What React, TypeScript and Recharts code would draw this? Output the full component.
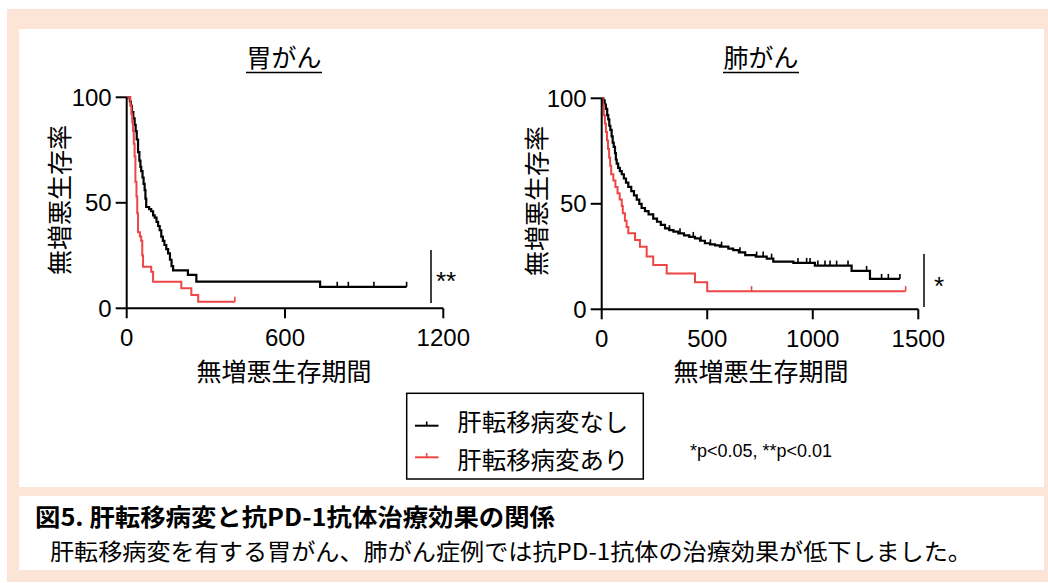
import React from 'react';
import { LineChart, Line, XAxis, YAxis } from 'recharts';

// ---- Data ----
// 胃がん, 肝転移病変なし
const gastricNoLiverT = [0, 12, 16, 20, 25, 30, 34, 38, 43, 48, 52, 55, 60, 64, 68, 71, 74, 85, 93, 100, 106, 113, 119, 125, 131, 137, 143, 150, 157, 164, 170, 176, 232, 264, 733];
const gastricNoLiverS = [100, 98, 96, 93, 90, 87, 84, 80, 74, 70, 67, 65, 62, 59, 56, 52, 48, 47, 46, 44, 43, 41, 39, 37, 34, 32, 30, 28, 26, 23, 20, 18, 15.8, 12.6, 10.2];
const gastricNoLiverCensor = [798, 840, 937, 1061];

// 胃がん, 肝転移病変あり
const gastricLiverT = [0, 14, 18, 21, 24, 27, 30, 33, 37, 40, 43, 50, 55, 59, 62, 93, 100, 207, 245, 271];
const gastricLiverS = [100, 96, 92, 88, 84, 78, 72, 60, 53, 45, 36, 34, 32, 25, 19.7, 17.3, 12.6, 9.5, 6.3, 3.1];
const gastricLiverCensor = [410];

// 肺がん, 肝転移病変なし
const lungNoLiverT = [0, 8, 14, 20, 26, 31, 36, 41, 47, 52, 57, 63, 67, 71, 78, 86, 95, 105, 115, 126, 140, 153, 166, 178, 189, 205, 222, 244, 262, 280, 300, 320, 340, 363, 390, 415, 442, 466, 489, 513, 537, 560, 600, 623, 650, 680, 730, 782, 813, 908, 1010, 1184, 1271];
const lungNoLiverS = [100, 99, 97, 95, 92, 90, 87, 85, 82, 79, 77, 74, 71, 69, 67, 65.5, 64, 62, 60, 58, 56, 54, 52, 50, 48, 46.5, 45, 43, 41.5, 40, 38.4, 37.5, 36.8, 36, 35, 34.3, 33.6, 32.5, 31.3, 30.8, 30.3, 29.7, 28.8, 28, 27, 25.7, 25, 24, 22.6, 22, 20.7, 18.2, 14.4];
const lungNoLiverCensor = [321, 371, 434, 470, 515, 568, 655, 734, 765, 805, 930, 971, 987, 1024, 1058, 1082, 1113, 1167, 1255, 1326, 1358, 1413];

// 肺がん, 肝転移病変あり
const lungLiverT = [0, 5, 10, 15, 20, 25, 30, 35, 40, 45, 55, 65, 75, 85, 95, 100, 110, 118, 126, 158, 181, 213, 244, 308, 442, 500];
const lungLiverS = [100, 97, 92, 88, 84, 80, 76, 72, 68, 64, 61, 58, 55, 52, 49, 45.5, 42, 39, 36, 32.8, 29.7, 25, 21, 17, 12.8, 8.6];
const lungLiverCensor = [710, 1440];

const gastricXTicks = [0, 600, 1200];
const lungXTicks = [0, 500, 1000, 1500];
const yTicks = [0, 50, 100];

const seriesNames = ['肝転移病変なし', '肝転移病変あり'];
const chartTitles = ['胃がん', '肺がん'];
const xLabel = '無増悪生存期間';
const yLabel = '無増悪生存率';
const significance = ['**', '*'];
const footnote = '*p<0.05, **p<0.01';
const captionTitle = '図5. 肝転移病変と抗PD-1抗体治療効果の関係';
const captionBody = '肝転移病変を有する胃がん、肺がん症例では抗PD-1抗体の治療効果が低下しました。';

// ---- Styles ----
const BLACK = '#000000';
const RED = '#EE4545';
const PEACH = '#FCE4D6';
const NUM_FONT = "'Liberation Sans', Arial, sans-serif";
const JP_FONT = "'Noto Sans CJK JP', 'Noto Sans', sans-serif";

type Pt = { t: number; s: number; c: boolean };

function buildCurve(ts: number[], ss: number[], censor: number[]): Pt[] {
  const pts: Pt[] = ts.map((t, i) => ({ t, s: ss[i], c: false }));
  censor.forEach((ct) => {
    let s = ss[0];
    for (let i = 0; i < ts.length; i++) if (ts[i] <= ct) s = ss[i];
    pts.push({ t: ct, s, c: true });
  });
  pts.sort((a, b) => a.t - b.t);
  return pts;
}

const censorDot = (color: string) => (props: any) => {
  const { cx, cy, payload, index } = props;
  if (!payload || !payload.c || cx == null || cy == null) return <g key={`d${index}`} />;
  return <line key={`d${index}`} x1={cx} x2={cx} y1={cy} y2={cy - 5} stroke={color} strokeWidth={1.6} />;
};

const axisStroke = { stroke: BLACK, strokeWidth: 2 };
const tickStyle = { fill: BLACK, fontSize: 24, fontFamily: NUM_FONT };

function KMChart(props: {
  left: number;
  top: number;
  yWidth: number;
  xMax: number;
  xTicks: number[];
  noLiver: Pt[];
  liver: Pt[];
}) {
  const W = 480;
  const H = 400;
  const plotW = 316.6;
  const plotH = 211;
  const xH = 60;
  return (
    <div style={{ position: 'absolute', left: props.left, top: 0, width: W, height: H }}>
      <LineChart
        width={W}
        height={H}
        margin={{ top: props.top, left: 0, right: W - props.yWidth - plotW, bottom: H - props.top - plotH - xH }}
      >
        <XAxis
          type="number"
          dataKey="t"
          domain={[0, props.xMax]}
          ticks={props.xTicks}
          interval={0}
          height={xH}
          tickSize={10}
          tickMargin={11}
          axisLine={axisStroke}
          tickLine={axisStroke}
          tick={tickStyle}
        />
        <YAxis
          type="number"
          domain={[0, 100]}
          ticks={yTicks}
          interval={0}
          width={props.yWidth}
          tickSize={11}
          tickMargin={4}
          axisLine={axisStroke}
          tickLine={axisStroke}
          tick={tickStyle}
        />
        <Line
          data={props.noLiver}
          dataKey="s"
          name={seriesNames[0]}
          type="stepAfter"
          stroke={BLACK}
          strokeWidth={2.2}
          dot={censorDot(BLACK)}
          activeDot={false}
          isAnimationActive={false}
        />
        <Line
          data={props.liver}
          dataKey="s"
          name={seriesNames[1]}
          type="stepAfter"
          stroke={RED}
          strokeWidth={2}
          dot={censorDot(RED)}
          activeDot={false}
          isAnimationActive={false}
        />
      </LineChart>
    </div>
  );
}

export default function App() {
  const gNo = buildCurve(gastricNoLiverT, gastricNoLiverS, gastricNoLiverCensor);
  const gYes = buildCurve(gastricLiverT, gastricLiverS, gastricLiverCensor);
  const lNo = buildCurve(lungNoLiverT, lungNoLiverS, lungNoLiverCensor);
  const lYes = buildCurve(lungLiverT, lungLiverS, lungLiverCensor);

  return (
    <div style={{ position: 'absolute', left: 0, top: 0, width: 1048, height: 583, background: '#fff', overflow: 'hidden' }}>
      <div style={{ position: 'absolute', left: 7, top: 9, width: 1050, height: 573, background: PEACH }} />
      <div style={{ position: 'absolute', left: 19, top: 29, width: 1025, height: 458, background: '#fff' }} />
      <div style={{ position: 'absolute', left: 19, top: 496, width: 1025, height: 74, background: '#fff' }} />

      <KMChart left={0} top={97.3} yWidth={126.7} xMax={1200} xTicks={gastricXTicks} noLiver={gNo} liver={gYes} />
      <KMChart left={480} top={98.3} yWidth={121.7} xMax={1500} xTicks={lungXTicks} noLiver={lNo} liver={lYes} />

      <svg width={1048} height={583} style={{ position: 'absolute', left: 0, top: 0, pointerEvents: 'none' }}>
        {/* titles */}
        <text x={284} y={67} textAnchor="middle" fontSize={25} fontFamily={JP_FONT} fill={BLACK}>{chartTitles[0]}</text>
        <line x1={246} x2={322} y1={72.5} y2={72.5} stroke={BLACK} strokeWidth={1.5} />
        <text x={761} y={67} textAnchor="middle" fontSize={25} fontFamily={JP_FONT} fill={BLACK}>{chartTitles[1]}</text>
        <line x1={723} x2={799} y1={72.5} y2={72.5} stroke={BLACK} strokeWidth={1.5} />

        {/* y labels */}
        <text x={0} y={0} transform="translate(57.5,200) rotate(-90)" textAnchor="middle" dominantBaseline="central" fontSize={25} fontFamily={JP_FONT} fill={BLACK}>{yLabel}</text>
        <text x={0} y={0} transform="translate(535,201) rotate(-90)" textAnchor="middle" dominantBaseline="central" fontSize={25} fontFamily={JP_FONT} fill={BLACK}>{yLabel}</text>

        {/* x labels */}
        <text x={284} y={370} textAnchor="middle" dominantBaseline="central" fontSize={25} fontFamily={JP_FONT} fill={BLACK}>{xLabel}</text>
        <text x={761} y={370} textAnchor="middle" dominantBaseline="central" fontSize={25} fontFamily={JP_FONT} fill={BLACK}>{xLabel}</text>

        {/* significance brackets */}
        <line x1={431} x2={431} y1={250} y2={303} stroke={BLACK} strokeWidth={1.5} />
        <text x={436} y={290} fontSize={26} fontFamily={NUM_FONT} fill={BLACK}>{significance[0]}</text>
        <line x1={924} x2={924} y1={254} y2={307} stroke={BLACK} strokeWidth={1.5} />
        <text x={934} y={295} fontSize={26} fontFamily={NUM_FONT} fill={BLACK}>{significance[1]}</text>

        {/* legend */}
        <rect x={406.7} y={393.3} width={236.6} height={85.7} fill="#fff" stroke={BLACK} strokeWidth={1.5} />
        <line x1={415} x2={438.5} y1={425.7} y2={425.7} stroke={BLACK} strokeWidth={2} />
        <line x1={426.7} x2={426.7} y1={425.7} y2={421.5} stroke={BLACK} strokeWidth={1.6} />
        <text x={457.3} y={420} dominantBaseline="central" fontSize={24} fontFamily={JP_FONT} fill={BLACK} textLength={171} lengthAdjust="spacingAndGlyphs">{seriesNames[0]}</text>
        <line x1={415} x2={438.5} y1={457.3} y2={457.3} stroke={RED} strokeWidth={2} />
        <line x1={426.7} x2={426.7} y1={457.3} y2={453.1} stroke={RED} strokeWidth={1.6} />
        <text x={457.3} y={458.5} dominantBaseline="central" fontSize={24} fontFamily={JP_FONT} fill={BLACK} textLength={171} lengthAdjust="spacingAndGlyphs">{seriesNames[1]}</text>

        {/* footnote */}
        <text x={690} y={456.5} fontSize={18} fontFamily={NUM_FONT} fill={BLACK} textLength={142} lengthAdjust="spacingAndGlyphs">{footnote}</text>

        {/* caption */}
        <text x={35} y={526} fontSize={24} fontWeight="bold" fontFamily={JP_FONT} fill={BLACK} textLength={520} lengthAdjust="spacingAndGlyphs">{captionTitle}</text>
        <text x={50} y={560} fontSize={23} fontFamily={JP_FONT} fill={BLACK} textLength={922} lengthAdjust="spacingAndGlyphs">{captionBody}</text>
      </svg>
    </div>
  );
}
